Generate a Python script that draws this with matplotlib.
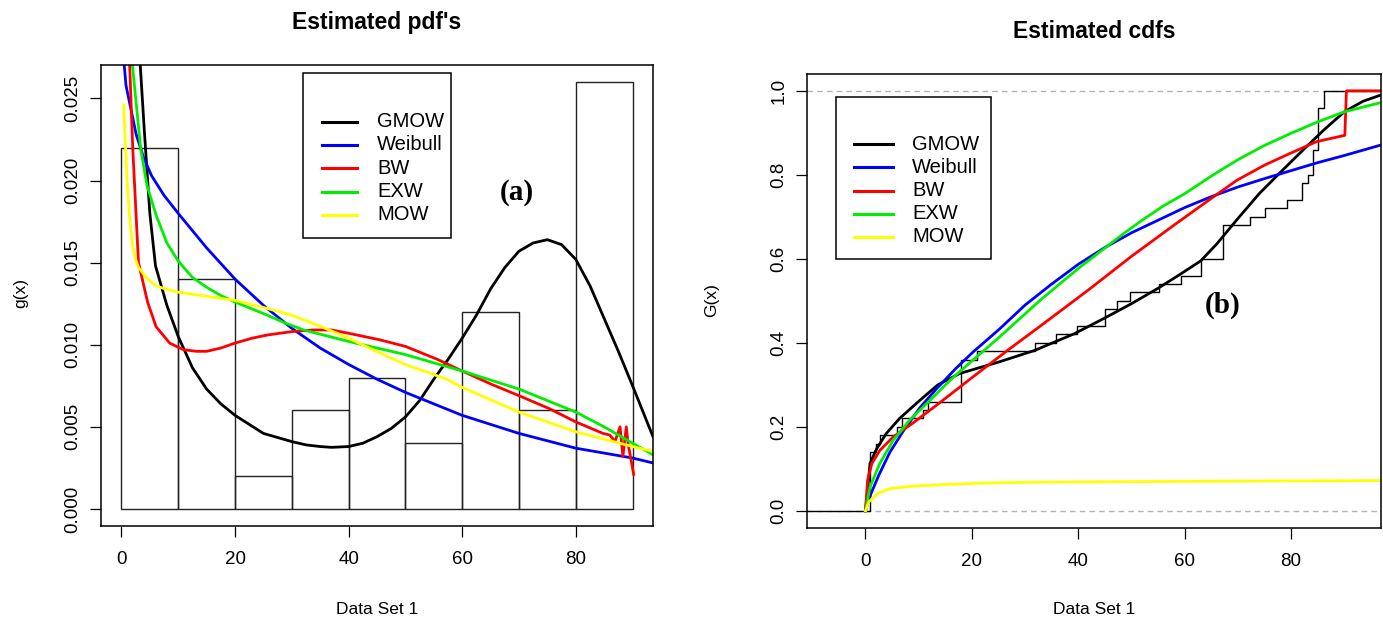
import numpy as np
import matplotlib
matplotlib.use("Agg")
from matplotlib import pyplot as plt
from matplotlib.patches import Rectangle
from matplotlib.lines import Line2D

plt.rcParams['font.family'] = ['Liberation Sans', 'DejaVu Sans']

data_set = [0.85, 0.85, 0.85, 0.85, 0.85, 0.85, 0.85, 1.9, 2.7, 5.9,
            6.8, 10.9, 11.8, 17.9, 17.9, 17.9, 17.9, 17.9, 21.0, 31.8,
            35.8, 39.8, 45.1, 45.1, 47.2, 49.8, 55.1, 59.3, 63.0, 63.0,
            67.2, 67.2, 67.2, 67.2, 72.2, 75.1, 79.2, 82.1, 82.1, 83.2,
            84.2, 84.2, 84.2, 85.0, 85.0, 85.0, 85.0, 85.0, 86.1, 86.1]
hist_bins = [0, 10, 20, 30, 40, 50, 60, 70, 80, 90]

models = ["GMOW", "Weibull", "BW", "EXW", "MOW"]
colors = ["black", "blue", "red", "#00ee00", "yellow"]

# fitted densities
gmow_pdf_x = [3.3, 4, 5, 6, 8, 10, 12.5, 15, 17.5, 20, 25, 30, 32.5, 35, 37,
              40, 42.5, 45, 47.5, 50, 52.5, 55, 57.5, 60, 62.5, 65, 67.5, 70,
              72.5, 75, 77.5, 80, 82.5, 85, 87.5, 90, 93.6]
gmow_pdf_y = [0.0271, 0.0232, 0.0180, 0.0148, 0.0124, 0.0105, 0.0086, 0.0073,
              0.0064, 0.0057, 0.0046, 0.0041, 0.0039, 0.0038, 0.00375, 0.0038,
              0.0040, 0.0044, 0.0049, 0.0056, 0.0066, 0.0079, 0.0091, 0.0104,
              0.0118, 0.0134, 0.0147, 0.0157, 0.0162, 0.0164, 0.0161, 0.0152,
              0.0136, 0.0116, 0.0096, 0.0075, 0.0044]
weib_pdf_x = [0, 0.8, 2.6, 3.9, 5.3, 7.5, 10, 15, 20, 25, 30, 35, 40, 45, 50,
              55, 60, 70, 80, 90, 93.6]
weib_pdf_y = [0.0290, 0.0258, 0.0228, 0.0214, 0.0203, 0.0191, 0.0180, 0.0159,
              0.0140, 0.0124, 0.0110, 0.0098, 0.0088, 0.0079, 0.0071, 0.0064,
              0.0057, 0.0046, 0.0037, 0.0031, 0.0028]
bw_pdf_x = [1.4, 2.0, 3.0, 4.6, 6.1, 8.5, 10.9, 13.2, 15, 17.5, 20, 23, 25.8,
            30, 33.7, 37, 40, 45.5, 50, 55.7, 60, 65.1, 70, 75.4, 80, 84.8,
            86.0, 86.9, 87.8, 88.3, 88.9, 89.2, 90.2]
bw_pdf_y = [0.0275, 0.0219, 0.0150, 0.0126, 0.0111, 0.0101, 0.0097, 0.0096,
            0.0096, 0.0098, 0.0101, 0.0104, 0.0106, 0.0108, 0.0109, 0.0109,
            0.0107, 0.0103, 0.0099, 0.0091, 0.0084, 0.0076, 0.0069, 0.0061,
            0.0053, 0.0046, 0.0045, 0.0041, 0.0050, 0.0032, 0.0050, 0.0040,
            0.0021]
exw_pdf_x = [1.8, 3.4, 4.5, 6.1, 8, 10, 12.5, 15, 17.5, 20, 25, 29, 32.1, 40,
             50, 60, 70, 80, 85, 90, 93.6]
exw_pdf_y = [0.0275, 0.0219, 0.0197, 0.0179, 0.0162, 0.0151, 0.0141, 0.0135,
             0.0130, 0.0126, 0.0119, 0.0113, 0.0109, 0.0102, 0.0094, 0.0084,
             0.0073, 0.0059, 0.0050, 0.0040, 0.0033]
mow_pdf_x = [0.4, 1, 1.5, 2, 2.5, 3, 4.6, 6, 7.7, 10, 20, 25.8, 30, 35.2, 40,
             45.5, 50, 57.3, 60, 70, 80, 90, 93.6]
mow_pdf_y = [0.0246, 0.0199, 0.0175, 0.0160, 0.0152, 0.0147, 0.0140, 0.0136,
             0.0134, 0.0132, 0.0127, 0.0122, 0.0118, 0.0111, 0.0104, 0.0095,
             0.0088, 0.0079, 0.0074, 0.0059, 0.0047, 0.0038, 0.0035]

# fitted distribution functions
gmow_cdf_x = [0, 0.85, 2.1, 3.9, 6.4, 10.2, 13.6, 17.7, 25.2, 31.8, 39.3, 45.1,
              50.1, 55, 59, 63, 66, 70, 74, 78, 82, 86, 90, 93.5, 96.9]
gmow_cdf_y = [0, 0.113, 0.148, 0.184, 0.22, 0.263, 0.300, 0.327, 0.355, 0.382,
              0.422, 0.46, 0.494, 0.53, 0.562, 0.595, 0.635, 0.696, 0.755,
              0.806, 0.856, 0.905, 0.95, 0.975, 0.99]
weib_cdf_x = [0, 1, 2.5, 4.6, 7.1, 10.2, 13.3, 16.9, 20.2, 25.2, 30, 35, 40,
              45, 50, 55, 60, 65, 70, 75, 80, 85, 90, 96.9]
weib_cdf_y = [0, 0.04, 0.085, 0.14, 0.19, 0.245, 0.29, 0.338, 0.378, 0.433,
              0.49, 0.54, 0.587, 0.627, 0.662, 0.692, 0.722, 0.748, 0.771,
              0.791, 0.81, 0.829, 0.846, 0.871]
bw_cdf_x = [0, 0.4, 1.2, 2.7, 5.2, 9, 13.5, 20.2, 26.8, 33.5, 41.8, 50.1,
            58.4, 65.9, 69.8, 75, 79.8, 84.8, 90.1, 90.4, 96.9]
bw_cdf_y = [0, 0.073, 0.113, 0.144, 0.176, 0.21, 0.253, 0.319, 0.383, 0.446,
            0.525, 0.607, 0.684, 0.752, 0.787, 0.823, 0.851, 0.879, 0.894,
            1.0, 1.0]
exw_cdf_x = [0, 0.85, 2.7, 5.2, 8.3, 12.1, 15.9, 20.2, 25.2, 32.7, 40, 48.5,
             52, 56, 60, 65, 70, 75, 80, 85, 90, 96.9]
exw_cdf_y = [0, 0.057, 0.113, 0.168, 0.216, 0.263, 0.311, 0.359, 0.414, 0.5,
             0.577, 0.66, 0.692, 0.726, 0.755, 0.797, 0.836, 0.870, 0.899,
             0.926, 0.95, 0.972]
mow_cdf_x = [0, 0.6, 2.2, 4.6, 9, 15.3, 21.5, 30, 40, 55, 70, 96.9]
mow_cdf_y = [0, 0.021, 0.041, 0.053, 0.059, 0.063, 0.066, 0.068, 0.069,
             0.070, 0.071, 0.072]

pdf_x = [gmow_pdf_x, weib_pdf_x, bw_pdf_x, exw_pdf_x, mow_pdf_x]
pdf_y = [gmow_pdf_y, weib_pdf_y, bw_pdf_y, exw_pdf_y, mow_pdf_y]
cdf_x = [gmow_cdf_x, weib_cdf_x, bw_cdf_x, exw_cdf_x, mow_cdf_x]
cdf_y = [gmow_cdf_y, weib_cdf_y, bw_cdf_y, exw_cdf_y, mow_cdf_y]

W, H = 1383, 622
fig = plt.figure(figsize=(W / 100, H / 100), dpi=100)


def fx(p):
    return p / W


def fy(p):
    return 1 - p / H


def r_axes(left, top, right, bottom):
    ax = fig.add_axes([fx(left), fy(bottom), (right - left) / W, (bottom - top) / H])
    for s in ax.spines.values():
        s.set_linewidth(1.1)
    ax.tick_params(direction='out', length=8, width=0.9, labelsize=13.5,
                   top=False, right=False)
    ax.tick_params(axis='x', pad=10)
    ax.tick_params(axis='y', pad=6)
    return ax


def manual_legend(box, line_x, text_x, y0, dy):
    fig.add_artist(Rectangle((fx(box[0]), fy(box[3])), (box[2] - box[0]) / W,
                             (box[3] - box[1]) / H, transform=fig.transFigure,
                             fill=True, facecolor='white', edgecolor='black',
                             linewidth=1.1, zorder=5))
    for i, (m, c) in enumerate(zip(models, colors)):
        y = y0 + i * dy
        fig.add_artist(Line2D([fx(line_x[0]), fx(line_x[1])], [fy(y), fy(y)],
                              transform=fig.transFigure, color=c, lw=2.2, zorder=6))
        fig.text(fx(text_x), fy(y), m, fontsize=14.5, va='center', ha='left', zorder=6)


# ---- left: estimated pdf's ----
ax1 = r_axes(101, 65, 653, 526)
ax1.hist(data_set, bins=hist_bins, density=True, fill=False, edgecolor='#222222',
         linewidth=1.0)
for xs, ys, c in zip(pdf_x, pdf_y, colors):
    ax1.plot(xs, ys, color=c, lw=2.0)
ax1.set_xlim(-3.6, 93.6)
ax1.set_ylim(-0.00104, 0.02704)
ax1.set_xticks([0, 20, 40, 60, 80])
ax1.set_yticks([0, 0.005, 0.010, 0.015, 0.020, 0.025])
ax1.set_yticklabels(["0.000", "0.005", "0.010", "0.015", "0.020", "0.025"],
                    rotation=90, va='center')
ax1.set_title("Estimated pdf's", fontsize=16.5, fontweight='bold', pad=26)
ax1.text(69.6, 0.0193, "(a)", family='Liberation Serif', fontweight='bold',
         fontsize=21, ha='center', va='center')
fig.text(fx(377), fy(609), "Data Set 1", fontsize=12.5, ha='center', va='center')
fig.text(fx(21), fy(293), "g(x)", fontsize=12.5, ha='center', va='center',
         rotation=90)
manual_legend((303, 73, 451, 238), (322, 357), 377, 121.7, 23.3)

# ---- right: estimated cdfs ----
ax2 = r_axes(806.7, 74, 1381, 527.7)
ax2.axhline(0, color='#b3b3b3', lw=1.0, ls=(0, (4, 3)))
ax2.axhline(1, color='#b3b3b3', lw=1.0, ls=(0, (4, 3)))
x_lo, x_hi = -11.05, 96.9
jumps = np.unique(data_set)
ecdf_y = np.searchsorted(np.sort(data_set), jumps, side='right') / len(data_set)
ax2.step(np.concatenate([[x_lo], jumps, [x_hi]]),
         np.concatenate([[0], ecdf_y, [1]]), where='post', color='black', lw=1.0)
for xs, ys, c in zip(cdf_x, cdf_y, colors):
    ax2.plot(xs, ys, color=c, lw=2.0)
ax2.set_xlim(x_lo, x_hi)
ax2.set_ylim(-0.04, 1.04)
ax2.set_xticks([0, 20, 40, 60, 80])
ax2.set_yticks([0, 0.2, 0.4, 0.6, 0.8, 1.0])
ax2.set_yticklabels(["0.0", "0.2", "0.4", "0.6", "0.8", "1.0"], rotation=90,
                    va='center')
ax2.set_title("Estimated cdfs", fontsize=16.5, fontweight='bold', pad=26)
ax2.text(67.2, 0.49, "(b)", family='Liberation Serif', fontweight='bold',
         fontsize=21, ha='center', va='center')
fig.text(fx(1094), fy(609), "Data Set 1", fontsize=12.5, ha='center', va='center')
fig.text(fx(712), fy(300), "G(x)", fontsize=12.5, ha='center', va='center',
         rotation=90)
manual_legend((836, 97, 991, 259), (853.6, 893.4), 912.4, 144.3, 23.1)

fig.savefig("out.png", dpi=100)
